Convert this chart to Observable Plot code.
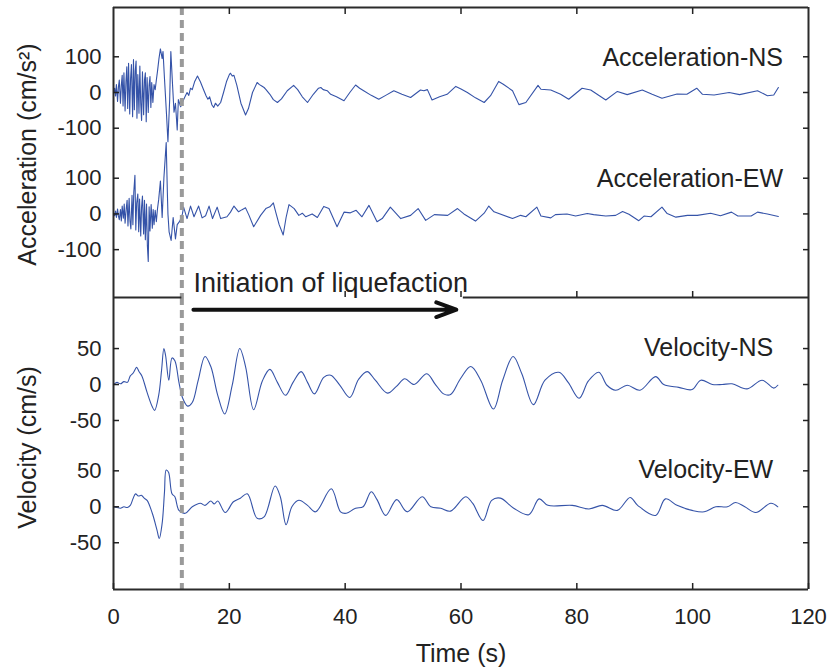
<!DOCTYPE html>
<html><head><meta charset="utf-8">
<script src="https://cdn.jsdelivr.net/npm/d3@7"></script>
<script src="https://cdn.jsdelivr.net/npm/@observablehq/plot@0.6"></script>
<style>
body{margin:0;background:#fff;}
#wrap{position:relative;width:830px;height:670px;}
#wrap svg{position:absolute;left:0;top:0;}
</style></head><body><div id="wrap"></div>
<script>
// ---------- data (time s, value) ----------
const accNS = [[0,0],[0.2,12],[0.35,-10],[0.5,22],[0.7,-25],[0.85,15],[1.0,35],[1.2,-30],[1.35,20],[1.5,48],[1.65,-38],[1.8,55],[2.0,-52],[2.15,30],[2.3,72],[2.45,-45],[2.6,82],[2.8,-60],[2.95,40],[3.1,78],[3.3,-68],[3.45,92],[3.6,-48],[3.75,60],[3.9,88],[4.05,-72],[4.2,50],[4.4,-58],[4.55,74],[4.7,-30],[4.85,-78],[5.0,58],[5.2,-62],[5.35,35],[5.5,55],[5.65,-82],[5.8,42],[6.0,-56],[6.15,20],[6.3,45],[6.45,-42],[6.6,28],[6.8,-28],[7.0,22],[7.2,8],[7.4,35],[7.6,60],[7.85,95],[8.1,122],[8.4,95],[8.55,115],[8.8,40],[9.15,-60],[9.4,-138],[9.7,-20],[9.9,115],[10.2,20],[10.45,-55],[10.7,-30],[11.0,-105],[11.2,-20],[11.6,-40],[12.1,-20],
[12.4,-10],[12.7,0],[13.0,-8],[13.3,12],[13.6,8],[14.0,30],[14.5,46],[15.0,30],[15.5,10],[16.0,-10],[16.3,-19],[16.6,-12],[17.0,-35],[17.3,-42],[17.6,-30],[18.0,-38],[18.5,-28],[19.0,0],[19.5,30],[20.0,50],[20.2,54],[20.5,46],[20.8,48],[21.3,20],[22.0,-30],[22.8,-63],[23.3,-45],[24.0,0],[24.8,28],[25.2,22],[25.6,18],[26.0,14],[26.3,9],[27.0,-5],[27.6,-20],[28.3,-28],[29.0,-18],[30.0,5],[31.1,20],[31.8,8],[32.6,-12],[33.5,-28],[34.5,-5],[35.4,12],[35.8,14],[36.2,8],[36.9,5],[37.5,-5],[38.5,-12],[39.8,-23],[40.8,0],[41.8,21],[42.5,12],[43.2,5],[44.5,-8],[45.8,-19],[47.0,-8],[48.4,5],[49.8,-5],[51.3,-14],[53.0,7],[53.6,5],[54.2,8],[55.0,-21],[56.3,-12],[57.6,-5],[59.1,17],[60.0,10],[61.1,0],[62.5,-15],[64.0,-28],[65.1,-9],[66.5,31],[67.3,23],[68.9,5],[70.0,-34],[71.2,-28],[73.3,20],[73.8,9],[75.5,7],[77.2,-5],[78.6,-19],[80.9,12],[82.4,7],[85.0,-21],[87.0,3],[88.7,-6],[91.3,7],[93.0,-5],[94.7,-16],[97.3,-4],[99.0,-5],[100.7,12],[101.7,-5],[103.7,-7],[106.3,0],[108.1,-6],[111.2,5],[112.9,-9],[114.0,-7],[114.8,14]];

const accEW = [[0,0],[0.2,-5],[0.35,8],[0.5,-10],[0.7,14],[0.85,-6],[1.0,-16],[1.2,12],[1.35,-20],[1.5,22],[1.7,-12],[1.85,28],[2.0,-26],[2.2,15],[2.35,38],[2.5,-34],[2.7,44],[2.85,-20],[3.0,-42],[3.2,52],[3.35,-30],[3.5,60],[3.7,108],[3.85,-45],[4.0,30],[4.2,56],[4.35,-50],[4.5,42],[4.7,-62],[4.85,20],[5.0,50],[5.2,-56],[5.35,38],[5.5,-72],[5.7,28],[5.85,-88],[6.0,-133],[6.15,20],[6.3,-48],[6.5,26],[6.7,-40],[6.85,12],[7.0,-30],[7.2,10],[7.4,-22],[7.6,15],[7.8,40],[8.1,92],[8.4,-10],[8.7,100],[8.9,150],[9.1,200],[9.3,60],[9.4,0],[9.6,-50],[9.95,-74],[10.3,-10],[10.7,-70],[11.0,-30],[11.45,-20],[11.9,0],
[12.1,19],[12.7,-13],[13.3,22],[13.9,-8],[14.7,22],[15.3,-11],[15.9,-5],[16.5,22],[17.1,-13],[17.9,19],[18.5,-13],[19.6,-8],[20.2,5],[20.8,22],[21.6,6],[22.2,12],[22.8,17],[23.4,-4],[24.2,-36],[25.4,-4],[26.3,15],[27.0,20],[27.6,31],[28.0,6],[28.6,-30],[29.3,-59],[29.8,-10],[30.3,26],[31.2,15],[32.0,-4],[32.6,2],[33.2,-8],[34.3,0],[35.2,-10],[36.3,21],[37.2,15],[38.6,-36],[39.8,5],[40.9,3],[41.9,10],[42.9,-8],[44.1,24],[45.5,-22],[46.4,-13],[47.8,19],[49.6,-13],[51.3,-4],[52.6,15],[53.9,-18],[55.4,-2],[57.7,-4],[59.4,15],[60.5,0],[62.5,-20],[64.0,2],[64.8,22],[65.7,6],[68.9,-13],[70.3,-4],[71.2,-8],[73.1,19],[73.8,-6],[75.5,-11],[76.3,-2],[78.3,0],[79.8,-6],[81.8,1],[82.9,-2],[85.0,-6],[86.7,-4],[87.9,7],[89.0,-1],[90.7,-19],[91.6,-6],[92.8,-8],[94.7,19],[95.6,1],[97.1,-9],[99.1,-4],[100.8,-4],[103.1,2],[104.8,-5],[106.7,5],[107.8,-6],[110.1,-6],[111.2,5],[112.9,0],[114.8,-7]];

const velNS = [[0,0],[0.6,3],[1.2,1],[1.8,4],[2.4,3],[2.9,12],[3.4,16],[3.8,22],[4.0,24],[4.4,18],[4.9,12],[5.8,-11],[6.7,-31],[7.1,-36],[7.8,-15],[8.3,20],[8.7,50],[9.0,40],[9.55,6],[10.1,37],[10.6,33],[11.3,3],[11.9,-18],[12.8,-30],[13.6,-25],[14.6,5],[15.8,39],[16.8,25],[18.0,-15],[19.2,-41],[20.5,-1],[21.8,50],[22.8,25],[24.2,-35],[25.7,5],[27.0,21],[28.3,3],[29.7,-15],[31.0,3],[32.4,18],[33.5,3],[34.7,-13],[36.3,10],[37.5,13],[39.0,0],[40.8,-18],[42.3,7],[43.8,18],[45.2,6],[47.3,-12],[48.8,-3],[50.3,8],[51.9,0],[54.1,15],[55.5,1],[57.0,-13],[58.2,-14],[59.9,8],[61.7,25],[63.4,6],[65.6,-34],[67.2,6],[69.0,39],[70.5,15],[72.5,-28],[74.5,6],[76.9,17],[78.5,3],[80.4,-19],[82.0,5],[83.8,17],[85.2,-1],[86.7,-8],[88.7,-1],[90.9,-8],[93.6,11],[95.0,0],[97.6,-4],[99.9,-7],[101.4,6],[103.4,0],[105.1,0],[106.8,1],[109.4,-6],[112.0,6],[114.0,-5],[114.7,-1]];

const velEW = [[0,0],[0.6,-1],[1.2,-2],[1.8,0],[2.4,-1],[2.9,2],[3.4,12],[3.8,18],[4.3,15],[4.8,16],[5.3,12],[5.8,9],[6.7,-9],[7.5,-32],[7.9,-44],[8.4,-23],[8.8,20],[9.1,51],[9.5,48],[10.1,18],[10.6,14],[11.3,-5],[12.4,-9],[13.6,0],[15.0,5],[15.8,2],[16.8,8],[17.4,4],[18.0,8],[19.3,-8],[20.7,7],[21.9,12],[23.1,18],[24.8,-16],[26.0,-14],[27.9,29],[28.8,14],[29.8,-25],[30.8,0],[32.0,9],[33.5,2],[34.9,-7],[37.6,25],[39.2,-7],[40.2,-9],[41.8,-2],[43.1,0],[44.5,21],[45.5,10],[47.0,-12],[48.9,10],[50.7,-7],[53.3,14],[54.8,0],[56.5,-2],[58.2,-6],[60.8,14],[62.0,5],[63.8,-19],[65.3,9],[66.8,12],[69.1,-2],[71.7,-11],[73.5,11],[75.0,2],[79.2,2],[82.1,-3],[84.4,2],[87.0,-5],[89.2,13],[90.5,2],[93.6,-12],[95.3,11],[97.3,2],[99.9,-5],[102.0,-7],[104.0,0],[106.0,0],[107.4,6],[109.0,0],[110.9,-8],[113.5,5],[114.7,0]];

// tick labels / offsets / annotations
const xTicks = [0, 20, 40, 60, 80, 100, 120];
const accTickLabels = [100, 0, -100];
const velTickLabels = [50, 0, -50];
const accOffsets = [0, -340];   // NS, EW baselines
const velOffsets = [0, -170];
const accNames = ["Acceleration-NS", "Acceleration-EW"];
const velNames = ["Velocity-NS", "Velocity-EW"];
const liquefactionTime = 11.8;
const annotationText = "Initiation of liquefaction";

// ---------- layout ----------
const W = 830, H = 670, ML = 113, MR = 22;
const topY0 = 7, divY = 297, botY1 = 589;
const accDomain = [-574, 238];
const velDomain = [-285, 121];
const FONT = '"Liberation Sans", Arial, Helvetica, sans-serif';
const INK = "#222", FRAME = "#2b2b2b", TRACE = "#3553a8";

const rows = (arr, off) => arr.map(([t, v]) => ({t, y: v + off}));
const tickSet = (labels, offs) => offs.flatMap(o => labels.map(l => ({v: l + o, label: String(l)})));
const accTicks = tickSet(accTickLabels, accOffsets);
const velTicks = tickSet(velTickLabels, velOffsets);
const fmt = ticks => d => { const f = ticks.find(k => Math.abs(k.v - d) < 1e-6); return f ? f.label : ""; };

const style = {fontFamily: FONT, fontSize: "22px", background: "transparent", overflow: "visible", color: INK};

const topPlot = Plot.plot({
  width: W, height: H, marginLeft: ML, marginRight: MR, marginTop: topY0, marginBottom: H - divY,
  style,
  x: {domain: [0, 120]},
  y: {domain: accDomain},
  marks: [
    Plot.line(rows(accNS, accOffsets[0]), {x: "t", y: "y", stroke: TRACE, strokeWidth: 1.1}),
    Plot.line(rows(accEW, accOffsets[1]), {x: "t", y: "y", stroke: TRACE, strokeWidth: 1.1}),
    Plot.ruleX([liquefactionTime], {stroke: "#9a9a9a", strokeWidth: 4, strokeDasharray: "8,5"}),
    Plot.ruleX([0, 120], {stroke: FRAME, strokeWidth: 2}),
    Plot.ruleY([accDomain[1]], {stroke: FRAME, strokeWidth: 2}),
    Plot.ruleY([{x1: 0, x2: liquefactionTime}, {x1: 60.4, x2: 120}], {y: accDomain[0], x1: "x1", x2: "x2", stroke: FRAME, strokeWidth: 2}),
    Plot.axisY({anchor: "left", ticks: accTicks.map(d => d.v), tickSize: -6, tickPadding: 18, tickFormat: fmt(accTicks), label: null, fontSize: 22, strokeWidth: 1.5, color: INK}),
    Plot.axisY({anchor: "right", ticks: accTicks.map(d => d.v), tickSize: -6, tickFormat: () => "", label: null, strokeWidth: 1.5, color: INK}),
    Plot.axisX({anchor: "top", ticks: [20, 40, 60, 80, 100], tickSize: -6, tickFormat: () => "", label: null, strokeWidth: 1.5, color: INK}),
    Plot.axisX({anchor: "bottom", ticks: [40, 60, 80, 100], tickSize: -6, tickFormat: () => "", label: null, strokeWidth: 1.5, color: INK}),
    Plot.text(accNames.map((n, i) => ({n, y: 98 + accOffsets[i]})), {x: () => 115.6, y: "y", text: "n", textAnchor: "end", fontSize: 25, fill: INK}),
    Plot.text([annotationText], {x: () => 13.8, y: () => -535, textAnchor: "start", fontSize: 27, fill: INK}),
    Plot.text(["Acceleration (cm/s²)"], {frameAnchor: "left", dx: -86, dy: 2, rotate: -90, textAnchor: "middle", lineAnchor: "middle", fontSize: 25, fill: INK})
  ]
});

const botPlot = Plot.plot({
  width: W, height: H, marginLeft: ML, marginRight: MR, marginTop: divY, marginBottom: H - botY1,
  style,
  x: {domain: [0, 120]},
  y: {domain: velDomain},
  marks: [
    Plot.line(rows(velNS, velOffsets[0]), {x: "t", y: "y", stroke: TRACE, strokeWidth: 1.1, curve: "catmull-rom"}),
    Plot.line(rows(velEW, velOffsets[1]), {x: "t", y: "y", stroke: TRACE, strokeWidth: 1.1, curve: "catmull-rom"}),
    Plot.ruleX([liquefactionTime], {stroke: "#9a9a9a", strokeWidth: 4, strokeDasharray: "8,5"}),
    Plot.ruleX([0, 120], {stroke: FRAME, strokeWidth: 2}),
    Plot.ruleY([velDomain[0]], {stroke: FRAME, strokeWidth: 2}),
    Plot.arrow([{x1: 13.8, x2: 59.2, y: 104}], {x1: "x1", x2: "x2", y1: "y", y2: "y", stroke: "#111", strokeWidth: 4, headLength: 8, headAngle: 40}),
    Plot.axisY({anchor: "left", ticks: velTicks.map(d => d.v), tickSize: -6, tickPadding: 18, tickFormat: fmt(velTicks), label: null, fontSize: 22, strokeWidth: 1.5, color: INK}),
    Plot.axisY({anchor: "right", ticks: velTicks.map(d => d.v), tickSize: -6, tickFormat: () => "", label: null, strokeWidth: 1.5, color: INK}),
    Plot.axisX({anchor: "bottom", ticks: xTicks, tickSize: -6, tickPadding: 25, tickFormat: d => String(d), label: null, fontSize: 22, strokeWidth: 1.5, color: INK}),
    Plot.text(velNames.map((n, i) => ({n, y: 51 + velOffsets[i]})), {x: () => 113.9, y: "y", text: "n", textAnchor: "end", fontSize: 25, fill: INK}),
    Plot.text(["Velocity (cm/s)"], {frameAnchor: "left", dx: -86, dy: 4, rotate: -90, textAnchor: "middle", lineAnchor: "middle", fontSize: 25, fill: INK}),
    Plot.text(["Time (s)"], {frameAnchor: "bottom", dy: 64, lineAnchor: "middle", fontSize: 25, fill: INK})
  ]
});

const wrap = document.getElementById("wrap");
wrap.appendChild(botPlot);
wrap.appendChild(topPlot);
</script></body></html>
